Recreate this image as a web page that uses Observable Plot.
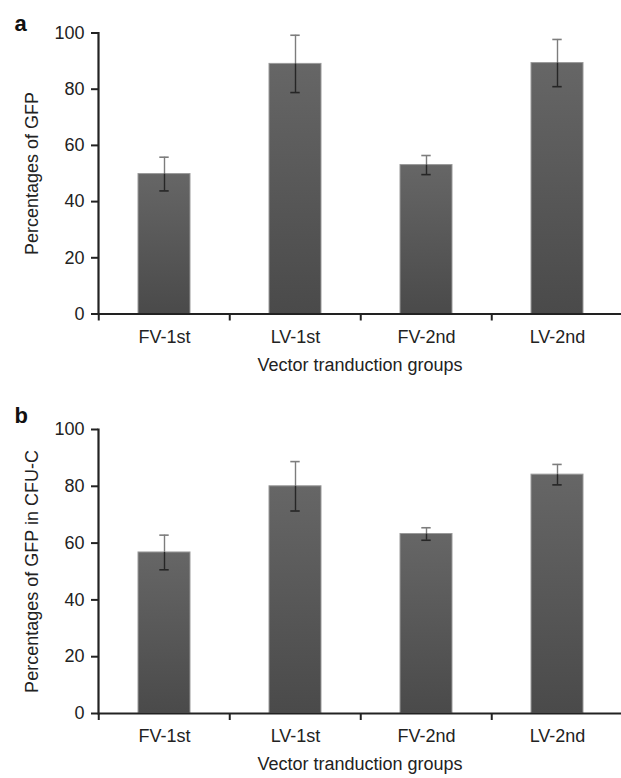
<!DOCTYPE html>
<html><head><meta charset="utf-8">
<script src="https://cdn.jsdelivr.net/npm/d3@7"></script>
<script src="https://cdn.jsdelivr.net/npm/@observablehq/plot@0.6"></script>
<style>
body{margin:0;background:#fff;}
#chart{width:621px;}
#chart svg{display:block;}
</style></head><body><div id="chart"></div>
<script>
const groups = ["FV-1st", "LV-1st", "FV-2nd", "LV-2nd"];
const gfpMean = [49.8, 89.0, 53.0, 89.3];
const gfpErr = [6.0, 10.2, 3.4, 8.4];
const cfuMean = [56.7, 80.0, 63.2, 84.1];
const cfuErr = [6.1, 8.7, 2.2, 3.6];
const yTicks = [0, 20, 40, 60, 80, 100];
const panelLetters = ["a", "b"];
const yTitles = ["Percentages of GFP", "Percentages of GFP in CFU-C"];
const xTitle = "Vector tranduction groups";

const FONT = "'Liberation Sans', Arial, Helvetica, sans-serif";

function panel(letter, yTitle, means, errs, height, mTop, mBottom, letterDy, gradId) {
  const data = groups.map((g, i) => ({g, v: means[i], e: errs[i]}));
  const mLeft = 98, mRight = 0, width = 621;
  const xRange = [98, 624];
  const step = (xRange[1] - xRange[0]) / groups.length;
  const pxPerUnit = (height - mTop - mBottom) / 100;
  const tickUnits = 7 / pxPerUnit;
  const bandW = step * 0.4;
  const capInset = (bandW - 10) / 2;
  const light = "#7d7d7d", dark = "#262626";
  const svg = Plot.plot({
    width, height,
    marginLeft: mLeft, marginRight: mRight, marginTop: mTop, marginBottom: mBottom,
    style: {fontFamily: FONT, background: "white", color: "#222", overflow: "visible"},
    x: {type: "band", domain: groups, range: xRange, paddingInner: 0.6, paddingOuter: 0.3, axis: null},
    y: {domain: [0, 100], axis: null},
    marks: [
      Plot.barY(data, {x: "g", y: "v", fill: `url(#${gradId})`, stroke: "#999", strokeWidth: 1}),
      Plot.ruleX(data, {x: "g", y1: "v", y2: d => d.v + d.e, stroke: light, strokeWidth: 1.4}),
      Plot.ruleX(data, {x: "g", y1: d => d.v - d.e, y2: "v", stroke: dark, strokeWidth: 1.4}),
      Plot.tickY(data, {x: "g", y: d => d.v + d.e, stroke: light, strokeWidth: 1.6, insetLeft: capInset, insetRight: capInset}),
      Plot.tickY(data, {x: "g", y: d => d.v - d.e, stroke: dark, strokeWidth: 1.6, insetLeft: capInset, insetRight: capInset}),
      Plot.frame({anchor: "left", stroke: "#222", strokeWidth: 2.2}),
      Plot.ruleY([0], {stroke: "#222", strokeWidth: 2.2}),
      Plot.ruleX(groups, {x: d => d, y1: 0, y2: -tickUnits, dx: -step / 2, stroke: "#222", strokeWidth: 2}),
      Plot.axisY(yTicks, {tickSize: 7, tickPadding: 7, fontSize: 18, stroke: "#222", strokeWidth: 2, label: null, fill: "#222"}),
      Plot.axisX({tickSize: 0, tickPadding: 16, fontSize: 18, label: null, fill: "#222"}),
      Plot.text([yTitle], {frameAnchor: "left", textAnchor: "middle", rotate: -90, dx: -66, fontSize: 18, fill: "#222"}),
      Plot.text([xTitle], {frameAnchor: "bottom", lineAnchor: "top", dy: 44, fontSize: 18, fill: "#222"}),
      Plot.text([letter], {frameAnchor: "top-left", textAnchor: "start", lineAnchor: "middle", dx: -84, dy: letterDy, fontSize: 22, fontWeight: "bold", fill: "#111"})
    ]
  });
  const defs = d3.select(svg).insert("defs", ":first-child");
  const lg = defs.append("linearGradient").attr("id", gradId).attr("x1", 0).attr("y1", 0).attr("x2", 0).attr("y2", 1);
  lg.append("stop").attr("offset", "0%").attr("stop-color", "#666666");
  lg.append("stop").attr("offset", "100%").attr("stop-color", "#4a4a4a");
  return svg;
}

const chart = document.getElementById("chart");
chart.appendChild(panel(panelLetters[0], yTitles[0], gfpMean, gfpErr, 390, 32.5, 76.5, -9.5, "gradA"));
chart.appendChild(panel(panelLetters[1], yTitles[1], cfuMean, cfuErr, 388, 39, 65, -14, "gradB"));
</script></body></html>
